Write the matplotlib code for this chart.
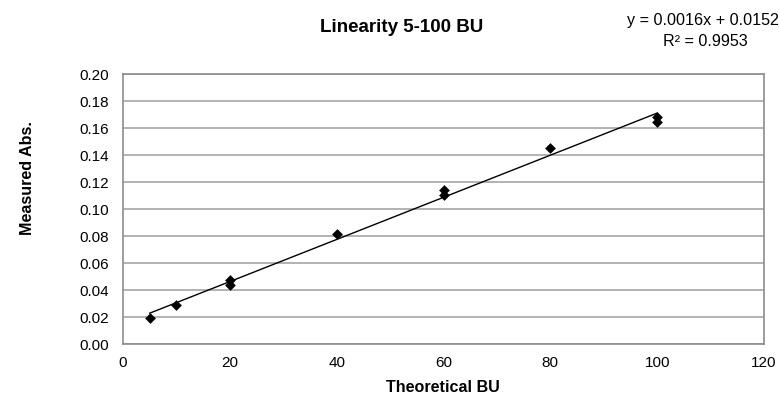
import numpy as np
import matplotlib
matplotlib.use("Agg")
import matplotlib.pyplot as plt

plt.rcParams['font.family'] = ['Liberation Sans', 'DejaVu Sans']

theoretical_bu = [5, 10, 20, 20, 40, 60, 60, 80, 100, 100]
measured_abs = [0.0196, 0.0288, 0.0474, 0.0437, 0.0819, 0.1144, 0.1102, 0.145, 0.1685, 0.1643]
x_ticks = [0, 20, 40, 60, 80, 100, 120]
y_ticks = [0.00, 0.02, 0.04, 0.06, 0.08, 0.10, 0.12, 0.14, 0.16, 0.18, 0.20]
title = "Linearity 5-100 BU"
eq_line1 = "y = 0.0016x + 0.0152"
eq_line2 = "R² = 0.9953"

W, H = 779, 396
fig = plt.figure(figsize=(W/100, H/100), dpi=100)
ax = fig.add_axes([123/W, 1-344.3/H, (764-123)/W, (344.3-74)/H])

x = np.array(theoretical_bu, dtype=float)
y = np.array(measured_abs)
slope, intercept = np.polyfit(x, y, 1)
xf = np.array([min(x), max(x)])
ax.plot(xf, slope*xf + intercept, color='black', lw=1.0, zorder=3)
ax.scatter(x, y, marker='D', s=30, color='black', zorder=4, linewidths=0)

ax.set_xlim(0, 120)
ax.set_ylim(0, 0.20)
ax.set_xticks(x_ticks)
ax.set_yticks(y_ticks)
ax.set_yticklabels([f"{v:.2f}" for v in y_ticks])
ax.tick_params(axis='x', length=0, labelsize=11, pad=8.5)
ax.tick_params(axis='y', length=0, labelsize=11, pad=10.4)
ax.yaxis.grid(True, color='#a6a6a6', lw=1.2)
ax.set_axisbelow(True)
for sp in ax.spines.values():
    sp.set_color('#8c8c8c')
    sp.set_linewidth(1.2)

fig.text(443/W, 1-392/H, "Theoretical BU", ha='center', va='baseline', fontsize=11.6, fontweight='bold')
fig.text(28/W, 1-178/H, "Measured Abs.", ha='center', va='center', rotation=90, fontsize=11.6, fontweight='bold')

fig.text(402/W, 1-31.7/H, title, ha='center', va='baseline', fontsize=13.5, fontweight='bold')
fig.text(703/W, 1-25/H, eq_line1, ha='center', va='baseline', fontsize=11.6)
fig.text(705/W, 1-46/H, eq_line2, ha='center', va='baseline', fontsize=11.6)

fig.savefig("out.png", dpi=100)
